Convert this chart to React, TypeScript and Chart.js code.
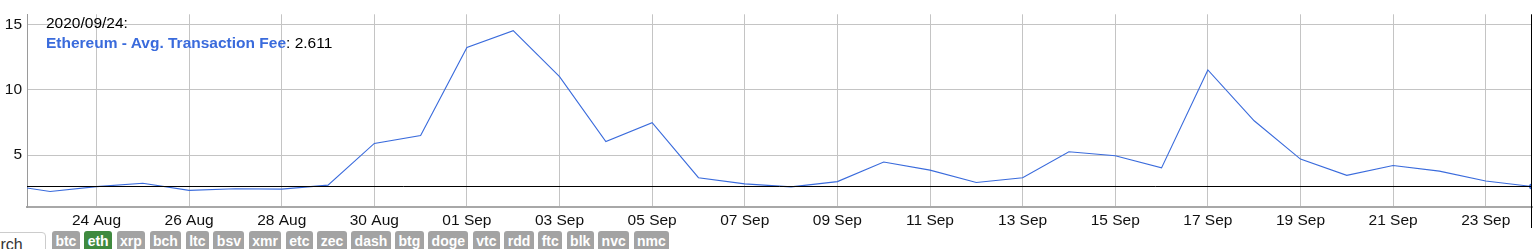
import React, { useEffect, useRef } from "react";
import { Chart, registerables } from "chart.js";

Chart.register(...registerables);

// Daily average Ethereum transaction fee (USD)
const dates: string[] = [
  "2020-08-22", "2020-08-23", "2020-08-24", "2020-08-25", "2020-08-26", "2020-08-27",
  "2020-08-28", "2020-08-29", "2020-08-30", "2020-08-31", "2020-09-01", "2020-09-02",
  "2020-09-03", "2020-09-04", "2020-09-05", "2020-09-06", "2020-09-07", "2020-09-08",
  "2020-09-09", "2020-09-10", "2020-09-11", "2020-09-12", "2020-09-13", "2020-09-14",
  "2020-09-15", "2020-09-16", "2020-09-17", "2020-09-18", "2020-09-19", "2020-09-20",
  "2020-09-21", "2020-09-22", "2020-09-23", "2020-09-24",
];
const fees: number[] = [
  2.75, 2.23, 2.6, 2.86, 2.31, 2.43,
  2.41, 2.71, 5.9, 6.5, 13.24, 14.52,
  11.0, 6.05, 7.48, 3.28, 2.81, 2.58,
  2.98, 4.48, 3.86, 2.91, 3.28, 5.26,
  4.96, 4.03, 11.52, 7.63, 4.7, 3.46,
  4.21, 3.78, 3.03, 2.611,
];
const yTicks: number[] = [5, 10, 15];
const coinTags: string[] = [
  "btc", "eth", "xrp", "bch", "ltc", "bsv", "xmr", "etc", "zec", "dash",
  "btg", "doge", "vtc", "rdd", "ftc", "blk", "nvc", "nmc",
];
const activeTag = "eth";
const seriesName = "Ethereum - Avg. Transaction Fee";
const selectedDate = "2020/09/24";
const selectedValue = "2.611";

const MONTHS = ["Jan", "Feb", "Mar", "Apr", "May", "Jun", "Jul", "Aug", "Sep", "Oct", "Nov", "Dec"];
const DAY_MS = 86400000;
const base = Date.parse(dates[0] + "T00:00:00Z");
const dayIndex = (d: string) => Math.round((Date.parse(d + "T00:00:00Z") - base) / DAY_MS);
const dayLabel = (i: number) => {
  const d = new Date(base + i * DAY_MS);
  return String(d.getUTCDate()).padStart(2, "0") + " " + MONTHS[d.getUTCMonth()];
};

const FONT = "'Liberation Sans', Arial, Helvetica, sans-serif";
const LINE_BLUE = "#3a6bdc";

export default function App() {
  const ref = useRef<HTMLCanvasElement | null>(null);

  useEffect(() => {
    document.body.style.margin = "0";
    const canvas = ref.current;
    if (!canvas) return;
    const points = dates.map((d, i) => ({ x: dayIndex(d), y: fees[i] }));
    const lastX = dayIndex(dates[dates.length - 1]);
    const selVal = parseFloat(selectedValue);

    // Highlight lines through the selected (last) point
    const crosshair = {
      id: "crosshair",
      afterDatasetsDraw(chart: any) {
        const { ctx, chartArea, scales } = chart;
        const y = Math.round(scales.y.getPixelForValue(selVal)) + 0.5;
        const x = Math.round(scales.x.getPixelForValue(lastX)) - 0.5;
        ctx.save();
        ctx.strokeStyle = "#000";
        ctx.lineWidth = 1;
        ctx.beginPath();
        ctx.moveTo(chartArea.left, y);
        ctx.lineTo(chartArea.right, y);
        ctx.moveTo(x, chartArea.top);
        ctx.lineTo(x, chartArea.bottom + 21);
        ctx.stroke();
        ctx.restore();
      },
    };

    const chart = new Chart(canvas, {
      type: "line",
      data: {
        datasets: [
          {
            label: seriesName,
            data: points,
            borderColor: LINE_BLUE,
            borderWidth: 1.1,
            pointRadius: (c: any) => (c.dataIndex === dates.length - 1 ? 3 : 0),
            pointBackgroundColor: LINE_BLUE,
            pointBorderWidth: 0,
            tension: 0,
          },
        ],
      },
      options: {
        animation: false,
        responsive: false,
        events: [],
        layout: { padding: { top: 11, right: 3, left: 0, bottom: 0 } },
        plugins: { legend: { display: false }, tooltip: { enabled: false } },
        scales: {
          x: {
            type: "linear",
            min: 0.5,
            max: lastX,
            afterBuildTicks: (s: any) => {
              const t = [];
              for (let i = 2; i < lastX; i += 2) t.push({ value: i });
              s.ticks = t;
            },
            afterFit: (s: any) => {
              s.height = 23;
            },
            ticks: {
              callback: (v: any) => dayLabel(Number(v)),
              font: { family: FONT, size: 15.5 },
              color: "#111",
              padding: 4,
              maxRotation: 0,
              autoSkip: false,
            },
            grid: { color: "#c4c4c4", lineWidth: 1, drawTicks: false },
            border: { color: "#a8a8a8", width: 2 },
          },
          y: {
            min: 1.04,
            max: 15.77,
            afterBuildTicks: (s: any) => {
              s.ticks = yTicks.map((v) => ({ value: v }));
            },
            afterFit: (s: any) => {
              s.width = 27;
            },
            ticks: {
              font: { family: FONT, size: 15.5 },
              color: "#111",
              padding: 5,
            },
            grid: { color: "#c4c4c4", lineWidth: 1, drawTicks: false },
            border: { color: "#9a9a9a", width: 1 },
          },
        },
      },
      plugins: [crosshair],
    } as any);
    return () => chart.destroy();
  }, []);

  return (
    <div style={{ position: "relative", width: 1536, height: 249, overflow: "hidden", fontFamily: FONT }}>
      <canvas ref={ref} width={1536} height={230} style={{ position: "absolute", left: 0, top: 0 }} />
      <div style={{ position: "absolute", left: 46, top: 13, fontSize: 15.5, lineHeight: "19.5px", color: "#000" }}>
        <div>{selectedDate}:</div>
        <div>
          <span style={{ color: LINE_BLUE, fontWeight: "bold" }}>{seriesName}</span>: {selectedValue}
        </div>
      </div>
      <div
        style={{
          position: "absolute",
          left: -54,
          top: 232,
          width: 100,
          height: 26,
          border: "1px solid #ccc",
          borderRadius: 4,
          boxSizing: "border-box",
          padding: "3px 0 0 25px",
          fontSize: 16,
          color: "#333",
          background: "#fff",
        }}
      >
        Search
      </div>
      <div style={{ position: "absolute", left: 52, top: 231, display: "flex", gap: 4.5 }}>
        {coinTags.map((t) => (
          <span
            key={t}
            style={{
              display: "inline-block",
              padding: "2px 3.4px 6px",
              borderRadius: 3,
              fontSize: 14,
              fontWeight: "bold",
              color: "#fff",
              background: t === activeTag ? "#3f8a3f" : "#a3a3a3",
              lineHeight: "17px",
            }}
          >
            {t}
          </span>
        ))}
      </div>
    </div>
  );
}
